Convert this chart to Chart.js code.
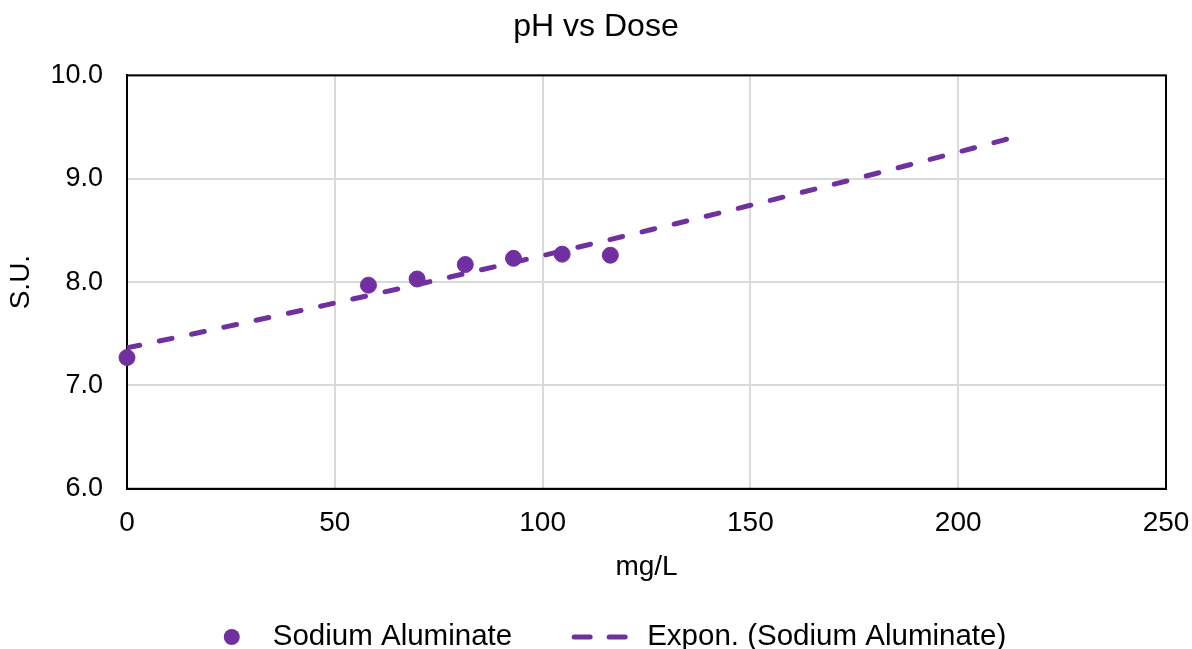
<!DOCTYPE html>
<html>
<head>
<meta charset="utf-8">
<script src="https://cdn.jsdelivr.net/npm/chart.js@4"></script>
<style>
  html, body { margin: 0; padding: 0; background: #fff; }
  #wrap { width: 1192px; height: 649px; }
</style>
</head>
<body>
<div id="wrap"><canvas id="chart" width="1192" height="649"></canvas></div>
<script>
// dose (mg/L) and measured pH (S.U.)
const dose = [0, 58.1, 69.8, 81.4, 93.0, 104.7, 116.3];
const ph = [7.27, 7.97, 8.03, 8.17, 8.23, 8.27, 8.26];
const trendEnd = 216; // excel forecast end of trendline
const purple = "#7030A0";
const fontFam = "'Liberation Sans', Arial, sans-serif";

// exponential fit y = a*e^(bx), least squares on ln(y)
const n = dose.length;
const lny = ph.map(v => Math.log(v));
const mx = dose.reduce((s, v) => s + v, 0) / n;
const my = lny.reduce((s, v) => s + v, 0) / n;
let sxy = 0, sxx = 0;
for (let i = 0; i < n; i++) {
  sxy += (dose[i] - mx) * (lny[i] - my);
  sxx += (dose[i] - mx) * (dose[i] - mx);
}
const b = sxy / sxx;
const a = Math.exp(my - b * mx);
const trend = [];
for (let x = 0; x < trendEnd; x += 6) trend.push({ x: x, y: a * Math.exp(b * x) });
trend.push({ x: trendEnd, y: a * Math.exp(b * trendEnd) });

// plot frame (all four sides) + legend drawn by hand, excel style
const extras = {
  id: "extras",
  beforeDatasetsDraw(c) {
    const ar = c.chartArea, ctx = c.ctx;
    ctx.save();
    ctx.strokeStyle = "#000"; ctx.lineWidth = 2;
    ctx.strokeRect(ar.left, ar.top, ar.right - ar.left, ar.bottom - ar.top);
    ctx.restore();
  },
  afterDraw(c) {
    const ctx = c.ctx;
    ctx.save();
    // legend
    const ds = c.data.datasets;
    ctx.font = "29.5px " + fontFam;
    ctx.textBaseline = "middle";
    const w1 = ctx.measureText(ds[0].label).width;
    const w2 = ctx.measureText(ds[1].label).width;
    const total = 16 + 33 + w1 + 60 + 55 + 20 + w2;
    let x = c.width / 2 + 19 - total / 2;
    const y = 637;
    ctx.fillStyle = purple;
    ctx.beginPath(); ctx.arc(x + 8, y, 8, 0, Math.PI * 2); ctx.fill();
    x += 16 + 33;
    ctx.fillStyle = "#000";
    ctx.fillText(ds[0].label, x, y);
    x += w1 + 60;
    ctx.strokeStyle = purple; ctx.lineWidth = 5; ctx.lineCap = "round";
    ctx.setLineDash([16, 19]);
    ctx.beginPath(); ctx.moveTo(x + 2, y); ctx.lineTo(x + 55, y); ctx.stroke();
    ctx.setLineDash([]);
    x += 55 + 20;
    ctx.fillText(ds[1].label, x, y);
    ctx.restore();
  }
};

Chart.defaults.font.family = fontFam;
Chart.defaults.color = "#000";

new Chart(document.getElementById("chart"), {
  type: "scatter",
  data: {
    datasets: [
      {
        label: "Sodium Aluminate",
        data: dose.map((x, i) => ({ x: x, y: ph[i] })),
        backgroundColor: purple,
        borderColor: purple,
        pointRadius: 8,
        pointHoverRadius: 8,
        clip: false,
        order: 1
      },
      {
        label: "Expon. (Sodium Aluminate)",
        type: "line",
        data: trend,
        borderColor: purple,
        borderWidth: 5,
        borderDash: [13, 20],
        borderCapStyle: "round",
        pointRadius: 0,
        fill: false,
        tension: 0,
        order: 2
      }
    ]
  },
  options: {
    responsive: false,
    animation: false,
    layout: { padding: { left: 0, right: 0, top: 0, bottom: 65 } },
    plugins: {
      title: {
        display: true,
        text: "pH vs Dose",
        font: { size: 32, weight: "normal" },
        padding: { top: 8, bottom: 29 }
      },
      legend: { display: false },
      tooltip: { enabled: false }
    },
    scales: {
      x: {
        min: 0, max: 250,
        afterFit: s => { s.paddingRight = 26; },
        ticks: { stepSize: 50, font: { size: 28 }, padding: 18 },
        grid: { color: "#d9d9d9", lineWidth: 2, drawTicks: false },
        border: { color: "#000", width: 2 },
        title: { display: true, text: "mg/L", font: { size: 28 }, padding: { top: -8, bottom: 0 } }
      },
      y: {
        min: 6, max: 10,
        afterFit: s => { s.width = 127; },
        ticks: { stepSize: 1, font: { size: 27 }, padding: 24, callback: v => v.toFixed(1) },
        grid: { color: "#d9d9d9", lineWidth: 2, drawTicks: false },
        border: { color: "#000", width: 2 },
        title: { display: true, text: "S.U.", font: { size: 28 }, padding: { top: 4, bottom: 4 } }
      }
    }
  },
  plugins: [extras]
});
</script>
</body>
</html>
